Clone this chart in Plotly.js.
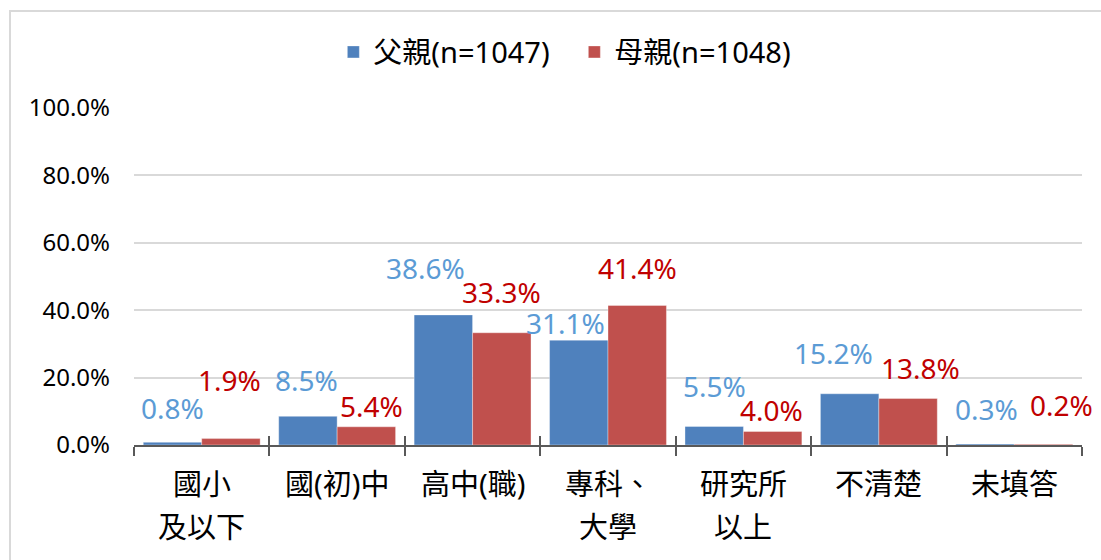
<!DOCTYPE html>
<html>
<head>
<meta charset="utf-8">
<script src="https://cdn.plot.ly/plotly-3.0.1.min.js"></script>
<style>html,body{margin:0;padding:0;background:#fff;}#chart{width:1101px;height:560px;}</style>
</head>
<body>
<div id="chart"></div>
<script>
// ---- data ----
const categories = ['國小\n及以下', '國(初)中', '高中(職)', '專科、\n大學', '研究所\n以上', '不清楚', '未填答'];
const seriesNames = ['父親(n=1047)', '母親(n=1048)'];
const fatherValues = [0.8, 8.5, 38.6, 31.1, 5.5, 15.2, 0.3];
const motherValues = [1.9, 5.4, 33.3, 41.4, 4.0, 13.8, 0.2];
const yTickValues = [0, 20, 40, 60, 80, 100];
const yTickLabels = ['0.0%', '20.0%', '40.0%', '60.0%', '80.0%', '100.0%'];

// ---- label placement (pixel nudges, style only) ----
const fatherLabelDx = [0, -1, -18, -13, 0, -16, 1];
const fatherLabelDy = [34, 36, 47, 17, 40, 41, 35];
const motherLabelDx = [-1, 5, 0, 0, -1, 12, 18];
const motherLabelDy = [59, 21, 41, 37, 22, 30, 39];

const FONT = '"Noto Sans", "Noto Sans CJK TC", sans-serif';
const barOffset = 29.2;
const xRange = [-0.5, categories.length - 0.5];

const traces = [
  {type: 'bar', name: seriesNames[0], x: categories, y: fatherValues,
   marker: {color: '#4F81BD', line: {color: 'rgba(255,255,255,0.35)', width: 1}}, hoverinfo: 'none'},
  {type: 'bar', name: seriesNames[1], x: categories, y: motherValues,
   marker: {color: '#C0504D', line: {color: 'rgba(255,255,255,0.35)', width: 1}}, hoverinfo: 'none'},
  {type: 'scatter', mode: 'markers', x: categories, y: categories.map(() => 0), xaxis: 'x2',
   marker: {opacity: 0}, showlegend: false, hoverinfo: 'none'}
];

const annotations = [];
categories.forEach((c, i) => {
  annotations.push({x: c, xref: 'x', y: fatherValues[i], yref: 'y', text: fatherValues[i].toFixed(1) + '%',
    showarrow: false, xanchor: 'center', yanchor: 'middle', xshift: -barOffset + fatherLabelDx[i], yshift: fatherLabelDy[i],
    font: {family: FONT, size: 28, color: '#5B9BD5'}});
  annotations.push({x: c, xref: 'x', y: motherValues[i], yref: 'y', text: motherValues[i].toFixed(1) + '%',
    showarrow: false, xanchor: 'center', yanchor: 'middle', xshift: barOffset + motherLabelDx[i], yshift: motherLabelDy[i],
    font: {family: FONT, size: 28, color: '#C00000'}});
  c.split('\n').forEach((line, k) => {
    annotations.push({x: c, xref: 'x', y: 0, yref: 'paper', text: line, showarrow: false,
      xanchor: 'center', yanchor: 'middle', yshift: -38 - 43 * k,
      font: {family: FONT, size: 29, color: '#000000'}});
  });
});

const layout = {
  width: 1101, height: 560,
  margin: {l: 134, r: 19, t: 108, b: 115},
  paper_bgcolor: '#ffffff', plot_bgcolor: '#ffffff',
  barmode: 'group', bargap: 0.137, bargroupgap: 0,
  font: {family: FONT, color: '#000000'},
  showlegend: true,
  legend: {orientation: 'h', x: 0.4645, xanchor: 'center', y: 1.166, yanchor: 'middle',
    entrywidth: 196, entrywidthmode: 'pixels',
    font: {family: FONT, size: 29, color: '#000000'}, itemclick: false, traceorder: 'normal'},
  xaxis: {type: 'category', categoryorder: 'array', categoryarray: categories, automargin: false,
    range: xRange, autorange: false,
    showticklabels: false, ticks: 'outside', ticklen: 9, tickwidth: 2, tickcolor: '#595959',
    tickson: 'boundaries', showline: true, linecolor: '#595959', linewidth: 2, showgrid: false,
    zeroline: false, fixedrange: true},
  xaxis2: {type: 'category', overlaying: 'x', categoryorder: 'array', categoryarray: categories,
    automargin: false, range: xRange, autorange: false,
    showticklabels: false, ticks: 'inside', ticklen: 9, tickwidth: 2, tickcolor: '#595959',
    tickson: 'boundaries', showline: false, showgrid: false, zeroline: false, side: 'bottom'},
  yaxis: {range: [0, 100], autorange: false, tickmode: 'array', tickvals: yTickValues, ticktext: yTickLabels, automargin: false,
    showgrid: true, gridcolor: '#d9d9d9', gridwidth: 2, zeroline: false, showline: false,
    ticks: '', ticklabelstandoff: 23,
    tickfont: {family: FONT, size: 24, color: '#000000'}, fixedrange: true},
  annotations: annotations,
  shapes: [{type: 'rect', xref: 'paper', yref: 'paper',
    x0: (10 - 134) / 948, x1: 1.1, y0: -0.5, y1: (445 - 11) / 337,
    line: {color: '#d9d9d9', width: 2}, fillcolor: 'rgba(0,0,0,0)', layer: 'below'}]
};

Plotly.newPlot('chart', traces, layout, {staticPlot: true, displayModeBar: false});
</script>
</body>
</html>
